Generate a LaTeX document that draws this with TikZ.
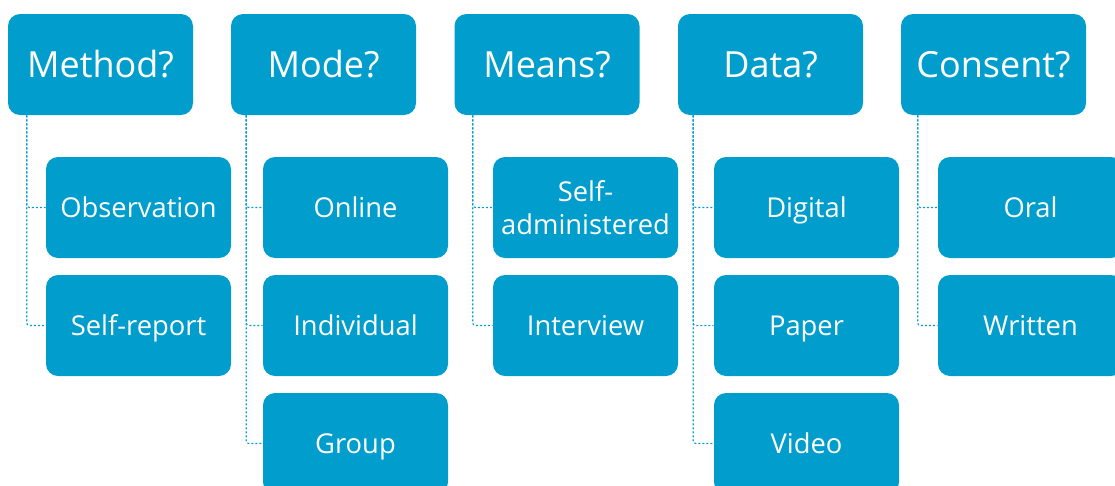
\documentclass[tikz,border=0pt]{standalone}
\usepackage{fontspec}
\setmainfont{Open Sans}
\definecolor{boxblue}{HTML}{009DCD}
\tikzset{
  boxbase/.style={fill=boxblue, draw=none, rounded corners=9pt, minimum width=138.75pt, minimum height=75.75pt, text=white, inner sep=0pt, align=center},
  hdr/.style={boxbase, font=\fontsize{27}{30}\selectfont, text height=19.5pt, text depth=0pt},
  item/.style={boxbase, font=\fontsize{20.5}{26}\selectfont, text height=15pt, text depth=0pt},
  itemtwo/.style={boxbase, font=\fontsize{20.5}{25}\selectfont},
  link/.style={draw=boxblue, line width=0.8pt, dash pattern=on 1.5pt off 1.5pt, rounded corners=2pt}
}
\begin{document}
\begin{tikzpicture}[x=0.75pt,y=-0.75pt]
\useasboundingbox (0,0) rectangle (1115,486);
\clip (0,0) rectangle (1115,486);
% headers
\node[hdr] (h1) at (100.5,64.5) {Method?};
\node[hdr] (h2) at (323.5,64.5) {Mode?};
\node[hdr] (h3) at (547,64.5) {Means?};
\node[hdr] (h4) at (770.5,64.5) {Data?};
\node[hdr] (h5) at (993.5,64.5) {Consent?};
% children
\node[item] (a1) at (138.5,207.5) {Observation};
\node[item] (a2) at (138.5,325.5) {Self-report};
\node[item] (b1) at (355.5,207.5) {Online};
\node[item] (b2) at (355.5,325.5) {Individual};
\node[item] (b3) at (355.5,443.5) {Group};
\node[itemtwo] (c1) at (585.5,207.5) {Self-\\administered};
\node[item] (c2) at (585.5,325.5) {Interview};
\node[item] (d1) at (806.5,207.5) {Digital};
\node[item] (d2) at (806.5,325.5) {Paper};
\node[item] (d3) at (806.5,443.5) {Video};
\node[item] (e1) at (1030.5,207.5) {Oral};
\node[item] (e2) at (1030.5,325.5) {Written};
% connectors
\draw[link] (h1.south west) ++(19,0) |- (a2.west);
\draw[link] (h1.south west) ++(19,0) |- (a1.west);
\draw[link] (h2.south west) ++(15.5,0) |- (b3.west);
\draw[link] (h2.south west) ++(15.5,0) |- (b2.west);
\draw[link] (h2.south west) ++(15.5,0) |- (b1.west);
\draw[link] (h3.south west) ++(18.5,0) |- (c2.west);
\draw[link] (h3.south west) ++(18.5,0) |- (c1.west);
\draw[link] (h4.south west) ++(15.5,0) |- (d3.west);
\draw[link] (h4.south west) ++(15.5,0) |- (d2.west);
\draw[link] (h4.south west) ++(15.5,0) |- (d1.west);
\draw[link] (h5.south west) ++(17,0) |- (e2.west);
\draw[link] (h5.south west) ++(17,0) |- (e1.west);
\end{tikzpicture}
\end{document}
